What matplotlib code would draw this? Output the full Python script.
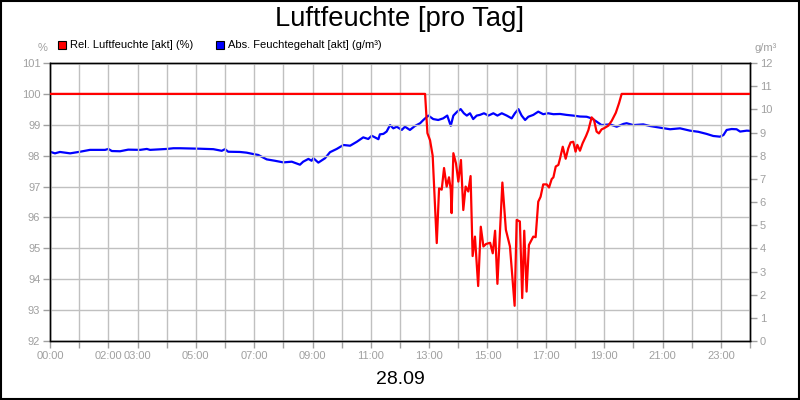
import matplotlib
matplotlib.use("Agg")
import matplotlib.pyplot as plt
from matplotlib.patches import Rectangle

plt.rcParams['font.family'] = ['Liberation Sans', 'DejaVu Sans']

title = "Luftfeuchte [pro Tag]"
date_label = "28.09"
rel_name = "Rel. Luftfeuchte [akt] (%)"
abs_name = "Abs. Feuchtegehalt [akt] (g/m³)"

# hours of day
rel_t = [0.00, 12.86, 12.94, 13.03, 13.12, 13.26, 13.34, 13.43, 13.51, 13.60, 13.68, 13.74,
         13.77, 13.83, 13.92, 14.00, 14.09, 14.17, 14.25, 14.34, 14.42, 14.49, 14.57, 14.68,
         14.77, 14.86, 14.95, 15.09, 15.18, 15.26, 15.34, 15.51, 15.63, 15.77, 15.93, 16.00,
         16.11, 16.19, 16.26, 16.34, 16.42, 16.57, 16.65, 16.74, 16.82, 16.91, 17.03, 17.11,
         17.20, 17.26, 17.34, 17.43, 17.49, 17.58, 17.68, 17.77, 17.85, 17.94, 18.02, 18.08,
         18.17, 18.26, 18.38, 18.46, 18.57, 18.65, 18.74, 18.82, 18.91, 19.00, 19.14, 19.26,
         19.40, 19.51, 19.60, 24.00]
rel_v = [100.0, 100.0, 98.73, 98.50, 98.00, 95.17, 96.94, 96.90, 97.60, 97.00, 97.30, 96.90,
         96.14, 98.08, 97.75, 97.16, 97.86, 96.24, 97.00, 96.84, 97.34, 94.75, 95.38, 93.78,
         95.70, 95.06, 95.14, 95.18, 94.84, 95.57, 93.85, 97.13, 95.60, 95.06, 93.14, 95.92,
         95.87, 93.39, 95.57, 93.60, 95.11, 95.38, 95.36, 96.51, 96.67, 97.07, 97.07, 96.97,
         97.24, 97.30, 97.65, 97.70, 97.92, 98.29, 97.90, 98.24, 98.43, 98.45, 98.13, 98.35,
         98.16, 98.40, 98.64, 98.83, 99.24, 99.16, 98.78, 98.72, 98.85, 98.89, 98.97, 99.13,
         99.39, 99.70, 100.0, 100.0]

abs_t = [0.00, 0.17, 0.34, 0.69, 1.03, 1.37, 1.89, 2.00, 2.12, 2.40, 2.68, 3.09, 3.32, 3.43,
         4.00, 4.23, 4.46, 5.14, 5.60, 5.89, 6.00, 6.11, 6.51, 6.74, 6.97, 7.14, 7.43, 7.71,
         8.00, 8.29, 8.57, 8.68, 8.86, 8.97, 9.03, 9.20, 9.43, 9.60, 9.83, 10.06, 10.29, 10.52,
         10.74, 10.91, 11.03, 11.14, 11.26, 11.31, 11.43, 11.54, 11.66, 11.77, 11.89, 12.06,
         12.17, 12.34, 12.51, 12.69, 12.80, 12.97, 13.14, 13.31, 13.48, 13.62, 13.74, 13.83,
         13.96, 14.08, 14.19, 14.29, 14.40, 14.51, 14.63, 14.74, 14.88, 15.03, 15.20, 15.34,
         15.49, 15.66, 15.83, 15.94, 16.06, 16.17, 16.29, 16.40, 16.57, 16.74, 16.91, 17.08,
         17.26, 17.49, 17.71, 17.94, 18.17, 18.40, 18.57, 18.74, 18.91, 19.20, 19.43, 19.66,
         19.77, 20.00, 20.34, 20.57, 20.91, 21.26, 21.60, 21.94, 22.23, 22.51, 22.74, 22.97,
         23.09, 23.20, 23.37, 23.54, 23.66, 23.89, 24.00]
abs_v = [8.17, 8.10, 8.16, 8.10, 8.17, 8.25, 8.25, 8.29, 8.20, 8.19, 8.26, 8.25, 8.29, 8.25,
         8.29, 8.32, 8.32, 8.30, 8.28, 8.21, 8.28, 8.17, 8.16, 8.13, 8.07, 8.03, 7.84, 7.78,
         7.71, 7.74, 7.61, 7.74, 7.86, 7.78, 7.89, 7.70, 7.89, 8.15, 8.29, 8.46, 8.43, 8.60,
         8.79, 8.72, 8.86, 8.79, 8.71, 8.92, 8.94, 9.04, 9.32, 9.18, 9.25, 9.11,
         9.25, 9.11, 9.28, 9.40, 9.54, 9.73, 9.58, 9.54, 9.61, 9.73, 9.29, 9.73,
         9.90, 10.01, 9.83, 9.73, 9.83, 9.58, 9.73, 9.76, 9.83, 9.73, 9.83, 9.73,
         9.83, 9.73, 9.61, 9.83, 10.01, 9.73, 9.54, 9.68, 9.76, 9.90, 9.79, 9.83,
         9.79, 9.80, 9.76, 9.73, 9.69, 9.68, 9.61, 9.47, 9.32, 9.35, 9.25, 9.37,
         9.40, 9.32, 9.35, 9.28, 9.21, 9.14, 9.18, 9.08, 9.03, 8.94, 8.85, 8.82,
         8.89, 9.11, 9.15, 9.14, 9.04, 9.08, 9.07]

xtick_labels = {0: "00:00", 2: "02:00", 3: "03:00", 5: "05:00", 7: "07:00", 9: "09:00",
                11: "11:00", 13: "13:00", 15: "15:00", 17: "17:00", 19: "19:00",
                21: "21:00", 23: "23:00"}
left_ticks = list(range(92, 102))
right_ticks = list(range(0, 13))

gray = "#a0a0a0"
grid = "#c0c0c0"

fig = plt.figure(figsize=(8, 4), dpi=100)
fig.patch.set_facecolor("white")
fig.add_artist(Rectangle((0.001, 0.002), 0.998, 0.996, transform=fig.transFigure,
                         fill=False, edgecolor="black", linewidth=1.5))

ax = fig.add_axes([0.0625, 0.1475, 0.875, 0.695])
ax2 = ax.twinx()

ax.set_xlim(0, 24)
ax.set_ylim(92, 101)
ax2.set_ylim(0, 12)

ax.set_xticks(range(25))
ax.set_xticklabels([xtick_labels.get(h, "") for h in range(25)])
ax.set_yticks(left_ticks)
ax2.set_yticks(right_ticks)

ax.grid(True, color=grid, linewidth=1)
ax.set_axisbelow(True)

for a in (ax, ax2):
    a.tick_params(colors=gray, labelcolor=gray, labelsize=8, length=5, width=1, pad=2)
    for s in a.spines.values():
        s.set_color("black")
        s.set_linewidth(1)

ax.plot(rel_t, rel_v, color="#ff0000", linewidth=1.6, zorder=3)
ax2.plot(abs_t, abs_v, color="#0000ff", linewidth=1.6, zorder=2)
ax.set_zorder(ax2.get_zorder() + 1)
ax.patch.set_visible(False)

fig.text(0.5, 0.953, title, ha="center", va="center", fontsize=19.7, color="black")
fig.text(0.5, 0.052, date_label, ha="center", va="center", fontsize=14, color="black")
fig.text(0.053, 0.88, "%", ha="center", va="center", fontsize=8, color=gray)
fig.text(0.957, 0.88, "g/m³", ha="center", va="center", fontsize=8, color=gray)

# legend
fig.add_artist(Rectangle((58 / 800, 1 - 49 / 400), 8 / 800, 8 / 400, transform=fig.transFigure,
                         facecolor="#ff0000", edgecolor="black", linewidth=0.8))
fig.text(70 / 800, 1 - 45 / 400, rel_name, ha="left", va="center", fontsize=8, color="black")
fig.add_artist(Rectangle((216 / 800, 1 - 49 / 400), 8 / 800, 8 / 400, transform=fig.transFigure,
                         facecolor="#0000ff", edgecolor="black", linewidth=0.8))
fig.text(228 / 800, 1 - 45 / 400, abs_name, ha="left", va="center", fontsize=8, color="black")

fig.savefig("out.png", dpi=100)
